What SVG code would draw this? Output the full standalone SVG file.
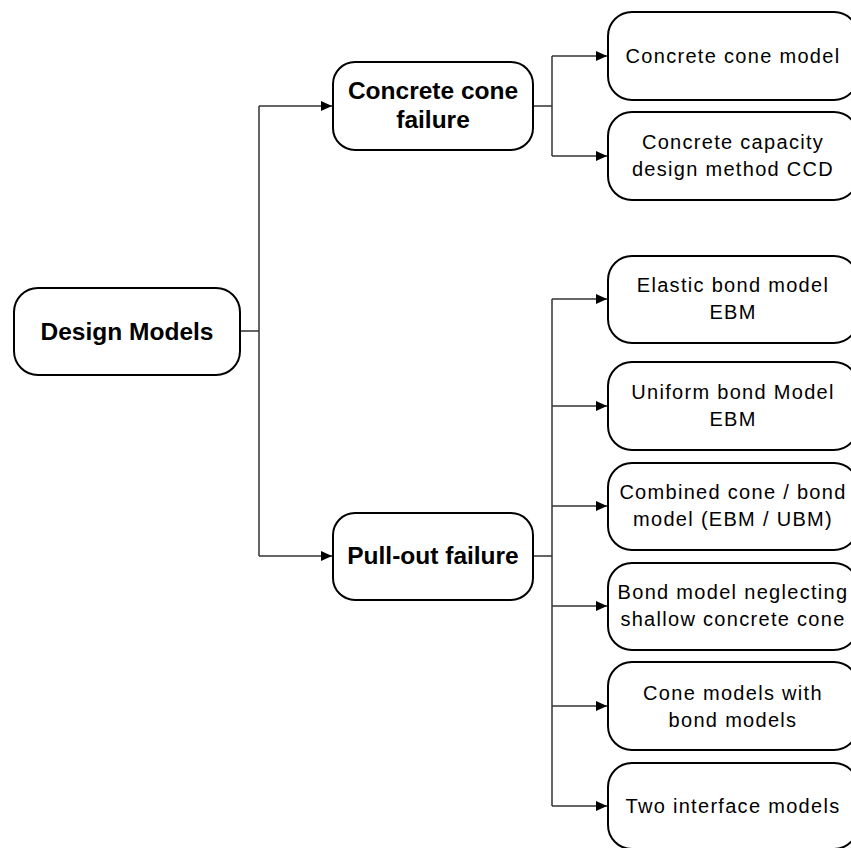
<svg xmlns="http://www.w3.org/2000/svg" width="851" height="848" viewBox="0 0 851 848">
  <style>
    .box { fill: #ffffff; stroke: #000000; stroke-width: 2; }
    .wire { fill: none; stroke: #333333; stroke-width: 1.5; }
    .head { fill: none; stroke: #333333; stroke-width: 1.5; marker-end: url(#arrow); }
    .bold { font-family: "Liberation Sans", Arial, sans-serif; font-weight: bold; font-size: 24.5px; fill: #000000; text-anchor: middle; }
    .reg { font-family: "Liberation Sans", Arial, sans-serif; font-size: 20px; letter-spacing: 1.3px; fill: #000000; text-anchor: middle; }
  </style>
  <defs>
    <marker id="arrow" markerWidth="11" markerHeight="10" refX="11" refY="5" orient="auto" markerUnits="userSpaceOnUse">
      <path d="M0,0 L11,5 L0,10 Z" fill="#000000"/>
    </marker>
  </defs>
  <rect width="851" height="848" fill="#ffffff"/>

  <!-- connectors -->
  <g id="connectors">
    <path class="wire" d="M240,331 H259 M259,106 V556"/>
    <path class="head" d="M259,106 H332"/>
    <path class="head" d="M259,556 H332"/>
    <path class="wire" d="M533,106 H552 M552,56 V156"/>
    <path class="head" d="M552,56 H607"/>
    <path class="head" d="M552,156 H607"/>
    <path class="wire" d="M533,556 H552 M552,299 V806"/>
    <path class="head" d="M552,299 H607"/>
    <path class="head" d="M552,406 H607"/>
    <path class="head" d="M552,506 H607"/>
    <path class="head" d="M552,606 H607"/>
    <path class="head" d="M552,706 H607"/>
    <path class="head" d="M552,806 H607"/>
  </g>

  <!-- root -->
  <g id="design-models">
    <rect class="box" x="14" y="288" width="226" height="87" rx="24"/>
    <text class="bold" x="127" y="340">Design Models</text>
  </g>

  <!-- second level -->
  <g id="concrete-cone-failure">
    <rect class="box" x="333" y="62" width="200" height="88" rx="22"/>
    <text class="bold" x="433" y="99">Concrete cone</text>
    <text class="bold" x="433" y="128">failure</text>
  </g>
  <g id="pull-out-failure">
    <rect class="box" x="333" y="513" width="200" height="87" rx="22"/>
    <text class="bold" x="433" y="564">Pull-out failure</text>
  </g>

  <!-- leaf models -->
  <g id="concrete-cone-model">
    <rect class="box" x="608" y="12" width="250" height="88" rx="24"/>
    <text class="reg" x="733" y="63">Concrete cone model</text>
  </g>
  <g id="ccd-method">
    <rect class="box" x="608" y="112" width="250" height="88" rx="24"/>
    <text class="reg" x="733" y="149">Concrete capacity</text>
    <text class="reg" x="733" y="176">design method CCD</text>
  </g>
  <g id="elastic-bond-model">
    <rect class="box" x="608" y="256" width="250" height="87" rx="24"/>
    <text class="reg" x="733" y="292">Elastic bond model</text>
    <text class="reg" x="733" y="319">EBM</text>
  </g>
  <g id="uniform-bond-model">
    <rect class="box" x="608" y="362" width="250" height="88" rx="24"/>
    <text class="reg" x="733" y="399">Uniform bond Model</text>
    <text class="reg" x="733" y="426">EBM</text>
  </g>
  <g id="combined-cone-bond">
    <rect class="box" x="608" y="463" width="250" height="87" rx="24"/>
    <text class="reg" x="733" y="499">Combined cone / bond</text>
    <text class="reg" x="733" y="526">model (EBM / UBM)</text>
  </g>
  <g id="bond-neglecting-cone">
    <rect class="box" x="608" y="563" width="250" height="87" rx="24"/>
    <text class="reg" x="733" y="599">Bond model neglecting</text>
    <text class="reg" x="733" y="626">shallow concrete cone</text>
  </g>
  <g id="cone-with-bond">
    <rect class="box" x="608" y="662" width="250" height="88" rx="24"/>
    <text class="reg" x="733" y="700">Cone models with</text>
    <text class="reg" x="733" y="727">bond models</text>
  </g>
  <g id="two-interface-models">
    <rect class="box" x="608" y="763" width="250" height="86" rx="24"/>
    <text class="reg" x="733" y="813">Two interface models</text>
  </g>
</svg>
